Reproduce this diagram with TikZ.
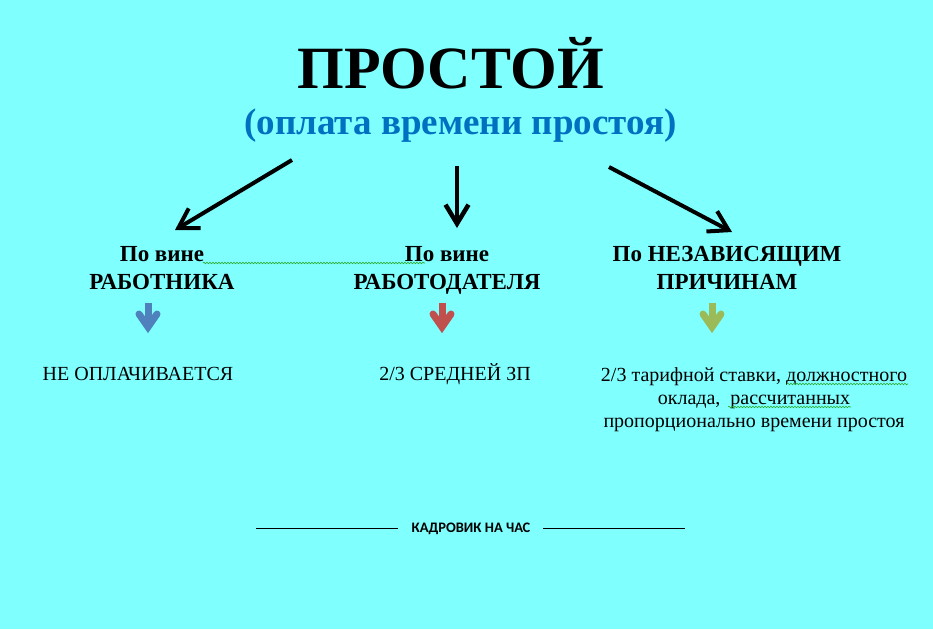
\documentclass[tikz,border=0pt]{standalone}
\usepackage{fontspec}
\setmainfont{Liberation Serif}
\newfontfamily\brandfont{Carlito}
\usetikzlibrary{arrows.meta,decorations.pathmorphing}
\definecolor{bgcyan}{RGB}{128,255,255}
\definecolor{subblue}{RGB}{0,112,192}
\definecolor{arrblue}{RGB}{79,129,189}
\definecolor{arrred}{RGB}{192,80,77}
\definecolor{arrolive}{RGB}{155,187,89}
\definecolor{squig}{RGB}{40,170,40}
\tikzset{
  titlestyle/.style={inner sep=0pt, anchor=base, font=\fontsize{60}{70}\selectfont\bfseries},
  substyle/.style={inner sep=0pt, anchor=base, text=subblue, font=\fontsize{37}{44}\selectfont\bfseries},
  labstyle/.style={inner sep=0pt, anchor=base, align=center, font=\fontsize{23}{28}\selectfont\bfseries},
  paystyle/.style={inner sep=0pt, anchor=base, align=center, font=\fontsize{20}{23}\selectfont},
  brandstyle/.style={inner sep=0pt, anchor=base, font=\fontsize{14.5}{17}\selectfont\brandfont\bfseries},
  bigarrow/.style={line width=4pt, -{Straight Barb[length=19pt,width=23pt]}},
  shaft/.style={line width=7pt},
  chevron/.style={line width=7pt, line cap=round, line join=miter},
  squiggle/.style={squig, line width=0.6pt, decorate, decoration={snake, amplitude=0.8pt, segment length=3pt}},
  rule/.style={line width=0.8pt}
}
\begin{document}
\begin{tikzpicture}[x=1pt,y=-1pt]
\fill[bgcyan] (0,0) rectangle (933,629);
\useasboundingbox (0,0) rectangle (933,629);

\node[titlestyle] (title) at (450.5,88) {ПРОСТОЙ};
\node[substyle] (sub) at (460.5,134) {(оплата времени простоя)};

\node[labstyle] (l1) at (162,289) {По вине\\РАБОТНИКА};
\node[labstyle] (l2) at (447,289) {По вине\\РАБОТОДАТЕЛЯ};
\node[labstyle] (l3) at (727,289) {По НЕЗАВИСЯЩИМ\\ПРИЧИНАМ};

\coordinate (a1s) at (292,160);
\coordinate (a1e) at (175,230);
\coordinate (a2s) at (457,166);
\coordinate (a2e) at (457,228);
\coordinate (a3s) at (609,167);
\coordinate (a3e) at (732,232);
\draw[bigarrow] (a1s) -- (a1e);
\draw[bigarrow, line width=4.5pt] (a2s) -- (a2e);
\draw[bigarrow] (a3s) -- (a3e);

% small coloured arrows
\foreach \x/\c in {148/arrblue, 442/arrred, 712/arrolive}{
  \draw[shaft, \c] (\x,303) -- (\x,326);
  \draw[chevron, \c] (\x-9,314) -- (\x,327) -- (\x+9,314);
}

\node[paystyle] (p1) at (138,380) {НЕ ОПЛАЧИВАЕТСЯ};
\node[paystyle] (p2) at (455,380) {2/3 СРЕДНЕЙ ЗП};
\node[paystyle] (p3) at (754,427) {2/3 тарифной ставки, должностного\\оклада,\ \ рассчитанных\\пропорционально времени простоя};

\draw[squiggle] (203,263) -- (425,263);
\draw[squiggle] (787,384) -- (908,384);
\draw[squiggle] (728,407) -- (851,407);

\node[brandstyle] (brand) at (471,532) {КАДРОВИК НА ЧАС};
\coordinate (r1) at (256,528);
\coordinate (r2) at (398,528);
\coordinate (r3) at (543,528);
\coordinate (r4) at (685,528);
\draw[rule] (r1) -- (r2);
\draw[rule] (r3) -- (r4);
\end{tikzpicture}
\end{document}
